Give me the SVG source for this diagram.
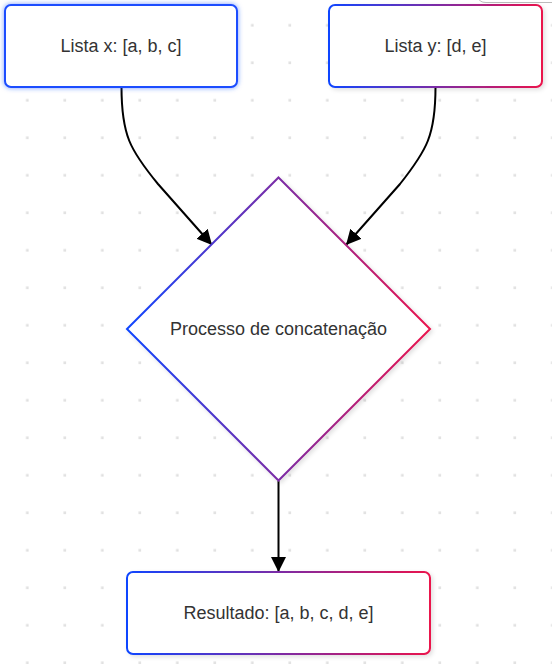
<svg xmlns="http://www.w3.org/2000/svg" width="552" height="664" viewBox="0 0 552 664">
<defs>
<style>
.lbl{font-family:"Liberation Sans",Arial,sans-serif;font-size:18px;fill:#333;text-anchor:middle;dominant-baseline:central}
.edge{fill:none;stroke:#000;stroke-width:2}
</style>
<pattern id="dots" patternUnits="userSpaceOnUse" x="0" y="0" width="37.5" height="37.5">
<rect x="26" y="24" width="2.6" height="2.6" fill="#e0e0e0"/>
</pattern>
<linearGradient id="grad" x1="0" y1="0" x2="1" y2="0">
<stop offset="0" stop-color="#0f45ff"/>
<stop offset="0.5" stop-color="#7b2ca6"/>
<stop offset="1" stop-color="#ea124c"/>
</linearGradient>
<filter id="shadow" x="-10%" y="-10%" width="125%" height="125%">
<feDropShadow dx="2" dy="2" stdDeviation="2" flood-color="#000" flood-opacity="0.12"/>
</filter>
<filter id="glow" x="-10%" y="-20%" width="120%" height="140%">
<feDropShadow dx="0" dy="0" stdDeviation="2.5" flood-color="#2255ff" flood-opacity="0.6"/>
</filter>
<marker id="arrow" markerUnits="userSpaceOnUse" markerWidth="16" markerHeight="16" refX="15" refY="7.5" orient="auto">
<path d="M0,0 L15,7.5 L0,15 z" fill="#000"/>
</marker>
</defs>
<rect width="552" height="664" fill="#fff"/>
<rect width="552" height="664" fill="url(#dots)"/>
<path d="M478,-3 Q479,2.5 486,2.5 L552,2.5" fill="none" stroke="#bbb" stroke-width="1"/>
<g id="connectors">
<path class="edge" d="M121.5,87 C121.5,135 130,150 158,184 L212,245" marker-end="url(#arrow)"/>
<path class="edge" d="M435.5,87 C435.5,135 427,150 400,184 L346,245" marker-end="url(#arrow)"/>
<path class="edge" d="M278.5,481 L278.5,572" marker-end="url(#arrow)"/>
</g>
<g id="node-lista-x">
<rect x="5" y="5" width="232" height="82" rx="6" fill="#fff" stroke="#1a4dff" stroke-width="2" filter="url(#glow)"/>
<text class="lbl" x="121" y="46">Lista x: [a, b, c]</text>
</g>
<g id="node-lista-y">
<rect x="329" y="5" width="213" height="82" rx="6" fill="#fff" stroke="url(#grad)" stroke-width="2" filter="url(#shadow)"/>
<text class="lbl" x="435.5" y="46">Lista y: [d, e]</text>
</g>
<g id="node-processo">
<polygon points="278.5,177.5 430,329 278.5,480.5 127,329" fill="#fff" stroke="url(#grad)" stroke-width="2" filter="url(#shadow)"/>
<text class="lbl" x="278.5" y="329">Processo de concatenação</text>
</g>
<g id="node-resultado">
<rect x="127" y="572" width="303" height="82" rx="6" fill="#fff" stroke="url(#grad)" stroke-width="2" filter="url(#shadow)"/>
<text class="lbl" x="278.5" y="613">Resultado: [a, b, c, d, e]</text>
</g>
</svg>
